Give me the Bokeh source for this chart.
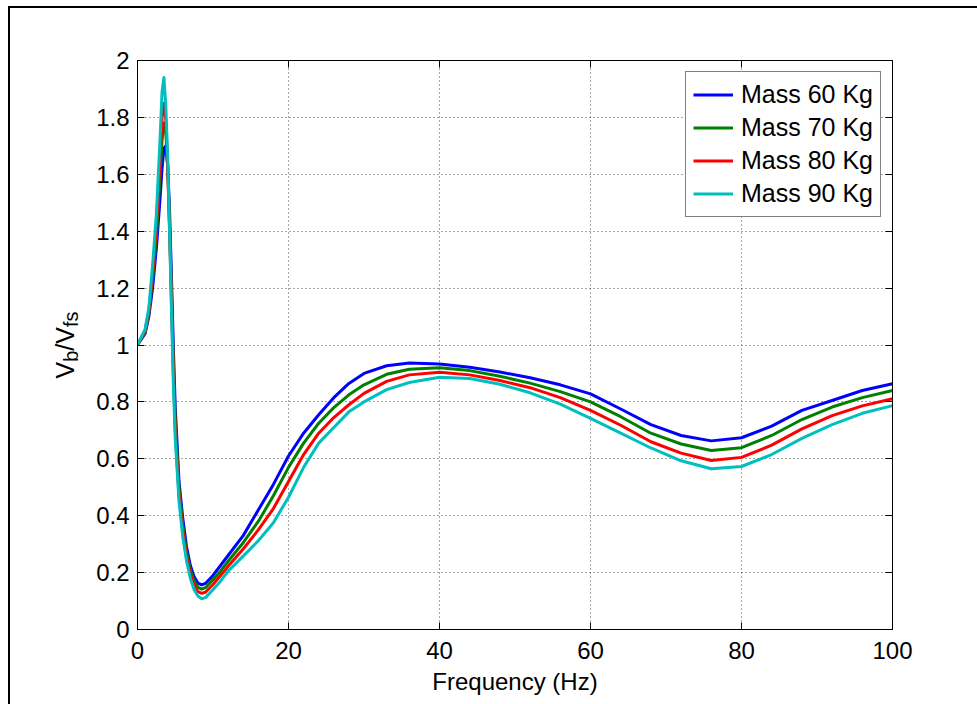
import math
from bokeh.plotting import figure
from bokeh.models import (FixedTicker, LinearAxis, Legend, LegendItem, Label,
                          Range1d, InlineStyleSheet)
from bokeh.embed import file_html
from bokeh.resources import INLINE

# ---------------- data ----------------
freq = [0, 1, 1.5, 2, 2.5, 3, 3.25, 3.5, 3.75, 4,
        4.25, 4.5, 4.75, 5, 5.5, 6, 6.5, 7, 7.5, 8,
        8.5, 9, 10, 11, 12, 14, 16, 18, 20, 22,
        24, 26, 28, 30, 33, 36, 40, 44, 48, 52,
        56, 60, 64, 68, 72, 76, 80, 84, 88, 92,
        96, 100]

mass60 = [1.0, 1.04, 1.10, 1.20, 1.34, 1.52, 1.62, 1.69, 1.70, 1.63,
          1.47, 1.24, 0.99, 0.78, 0.52, 0.39, 0.29, 0.225, 0.185, 0.163,
          0.157, 0.162, 0.19, 0.225, 0.26, 0.33, 0.42, 0.51, 0.61, 0.69,
          0.755, 0.815, 0.865, 0.90, 0.927, 0.937, 0.933, 0.922, 0.905, 0.885,
          0.86, 0.828, 0.775, 0.72, 0.682, 0.663, 0.674, 0.715, 0.77, 0.805,
          0.84, 0.864]

mass70 = [1.0, 1.045, 1.11, 1.23, 1.38, 1.60, 1.72, 1.78, 1.75, 1.62,
          1.42, 1.19, 0.94, 0.74, 0.50, 0.365, 0.27, 0.21, 0.17, 0.148,
          0.142, 0.147, 0.175, 0.205, 0.24, 0.305, 0.38, 0.47, 0.57, 0.655,
          0.725, 0.78, 0.825, 0.86, 0.897, 0.915, 0.92, 0.91, 0.89, 0.866,
          0.836, 0.80, 0.748, 0.69, 0.652, 0.629, 0.639, 0.682, 0.738, 0.782,
          0.815, 0.84]

mass80 = [1.0, 1.05, 1.12, 1.25, 1.42, 1.66, 1.80, 1.85, 1.79, 1.63,
          1.40, 1.15, 0.90, 0.70, 0.47, 0.345, 0.255, 0.195, 0.155, 0.133,
          0.127, 0.131, 0.158, 0.19, 0.222, 0.283, 0.35, 0.425, 0.52, 0.615,
          0.69, 0.745, 0.79, 0.83, 0.872, 0.895, 0.904, 0.895, 0.875, 0.85,
          0.815, 0.77, 0.718, 0.66, 0.62, 0.594, 0.605, 0.648, 0.705, 0.752,
          0.786, 0.811]

mass90 = [1.0, 1.055, 1.13, 1.28, 1.46, 1.73, 1.89, 1.94, 1.84, 1.66,
          1.40, 1.12, 0.86, 0.67, 0.45, 0.325, 0.24, 0.18, 0.14, 0.118,
          0.108, 0.112, 0.14, 0.17, 0.205, 0.258, 0.312, 0.375, 0.465, 0.57,
          0.655, 0.71, 0.765, 0.80, 0.843, 0.868, 0.887, 0.882, 0.862, 0.832,
          0.792, 0.742, 0.69, 0.638, 0.593, 0.565, 0.573, 0.615, 0.672, 0.72,
          0.76, 0.787]

series_labels = ["Mass 60 Kg", "Mass 70 Kg", "Mass 80 Kg", "Mass 90 Kg"]
series_colors = ["#0000ff", "#008000", "#ff0000", "#00bfbf"]

x_ticks = [0, 20, 40, 60, 80, 100]
x_tick_labels = ["0", "20", "40", "60", "80", "100"]
y_ticks = [0, 0.2, 0.4, 0.6, 0.8, 1, 1.2, 1.4, 1.6, 1.8, 2]
y_tick_labels = ["0", "0.2", "0.4", "0.6", "0.8", "1", "1.2", "1.4", "1.6", "1.8", "2"]

x_label = "Frequency (Hz)"
# y label V_b / V_fs as (text, is_subscript) pieces
y_label_parts = [("V", False), ("b", True), ("/V", False), ("fs", True)]

# ---------------- layout ----------------
W, H = 977, 704
FL, FR, FT, FB = 137, 892, 60, 629   # frame edges in page pixels
FONT = "Liberation Sans"
FS = "24px"

p = figure(width=W, height=H, x_range=Range1d(0, 100), y_range=Range1d(0, 2),
           output_backend="svg", toolbar_location=None,
           min_border_left=FL, min_border_right=W - FR,
           min_border_top=FT, min_border_bottom=H - FB)
p.background_fill_color = "white"
p.border_fill_color = "white"
p.outline_line_color = "black"
p.outline_line_width = 1

series = [mass60, mass70, mass80, mass90]
items = []
for vals, lab, col in zip(series, series_labels, series_colors):
    r = p.line(freq, vals, line_color=col, line_width=3, line_join="round")
    items.append(LegendItem(label=lab, renderers=[r]))

# axes
p.xaxis.ticker = FixedTicker(ticks=x_ticks)
p.yaxis.ticker = FixedTicker(ticks=y_ticks)
p.xaxis.major_label_overrides = dict(zip(x_ticks, x_tick_labels))
p.yaxis.major_label_overrides = dict(zip(y_ticks, y_tick_labels))
for ax in (p.xaxis[0], p.yaxis[0]):
    ax.major_tick_in = 7
    ax.major_tick_out = 0
    ax.minor_tick_in = 0
    ax.minor_tick_out = 0
    ax.axis_line_color = "black"
    ax.major_tick_line_color = "black"
    ax.major_label_text_font = FONT
    ax.major_label_text_font_size = FS
    ax.major_label_text_color = "black"
p.yaxis.major_label_standoff = 8
p.xaxis.major_label_standoff = 12

p.xaxis.axis_label = x_label
p.xaxis.axis_label_text_font = FONT
p.xaxis.axis_label_text_font_size = FS
p.xaxis.axis_label_text_font_style = "normal"
p.xaxis.axis_label_text_color = "black"
p.xaxis.axis_label_standoff = 6

top_ax = LinearAxis(ticker=FixedTicker(ticks=x_ticks), major_tick_in=7, major_tick_out=0,
                    minor_tick_in=0, minor_tick_out=0, axis_line_color="black",
                    major_label_text_alpha=0, major_label_text_font_size="1px")
right_ax = LinearAxis(ticker=FixedTicker(ticks=y_ticks), major_tick_in=7, major_tick_out=0,
                      minor_tick_in=0, minor_tick_out=0, axis_line_color="black",
                      major_label_text_alpha=0, major_label_text_font_size="1px")
p.add_layout(top_ax, "above")
p.add_layout(right_ax, "right")

# grid
p.xgrid.ticker = FixedTicker(ticks=x_ticks)
p.ygrid.ticker = FixedTicker(ticks=y_ticks)
p.grid.grid_line_color = "#222222"
p.grid.grid_line_dash = "1 3"
p.grid.grid_line_width = 1
p.grid.grid_line_alpha = 0.8

# legend
legend = Legend(items=items, location="top_right", margin=11, padding=7,
                spacing=2, label_height=31, glyph_height=31, glyph_width=40,
                label_standoff=8, label_text_font=FONT, label_text_font_size="25px",
                label_text_color="black", border_line_color="black",
                border_line_width=1, background_fill_color="white",
                background_fill_alpha=1)
p.add_layout(legend)

# y-axis label V_b/V_fs built from rotated pieces (absolute canvas positions);
# main pieces live in the left side panel, subscripts in the right one so that
# the side panels stay inside the reserved borders.
char_w = {"V": 0.667, "b": 0.556, "/": 0.278, "f": 0.278, "s": 0.5}
main_fs, sub_fs = 25, 20
sizes = [(t, sub_fs if sub else main_fs, 6 if sub else 0, sub) for t, sub in y_label_parts]
total = sum(sum(char_w[c] for c in t) * fs for t, fs, _, _ in sizes)
py = (FT + FB) / 2 + total / 2
base_x = 64
for t, fs, dx, sub in sizes:
    p.add_layout(Label(x=base_x + dx, y=py, x_units="canvas", y_units="canvas",
                       text=t, angle=math.pi / 2,
                       text_align="left", text_baseline="alphabetic",
                       text_font=FONT, text_font_size=f"{fs}px", text_color="black"),
                 "right" if sub else "left")
    py -= sum(char_w[c] for c in t) * fs

# outer figure border (top and left edges visible), drawn by a stylesheet
p.stylesheets = [InlineStyleSheet(css="""
:host::after {
  content: "";
  position: absolute;
  left: 8px; top: 6px; width: 2000px; height: 2000px;
  border-left: 2px solid black; border-top: 2px solid black;
  pointer-events: none; z-index: 10;
}
""")]

open("out.html", "w").write(file_html(p, INLINE))
